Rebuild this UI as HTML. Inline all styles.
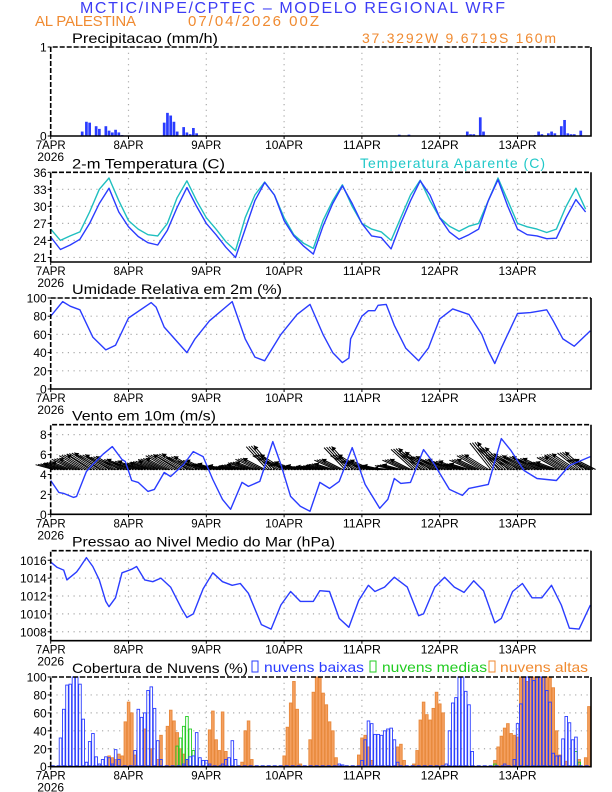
<!DOCTYPE html>
<html><head><meta charset="utf-8"><style>
html,body{margin:0;padding:0;background:#fff;}
svg{display:block;font-family:"Liberation Sans",sans-serif;}
</style></head><body>
<svg id="c" width="612" height="792" viewBox="0 0 612 792" xmlns="http://www.w3.org/2000/svg">
<text x="80" y="13" fill="#3c3cf5" font-size="16" textLength="425">MCTIC/INPE/CPTEC – MODELO REGIONAL WRF</text>
<text x="35" y="26" fill="#f08a30" font-size="15" textLength="101">AL PALESTINA</text>
<text x="188" y="26" fill="#f08a30" font-size="15" textLength="131">07/04/2026 00Z</text>
<text x="362" y="43" fill="#f08a30" font-size="14" textLength="194">37.3292W 9.6719S 160m</text>
<text x="360" y="168" fill="#20c8c8" font-size="14" textLength="185">Temperatura Aparente (C)</text>
<g id="g"></g>
</svg>
<script>
// ---------- data ----------
const dayLabels = ["7APR","8APR","9APR","10APR","11APR","12APR","13APR"];
const precipHours = [9.7,11,12,14,15,17,18,19,20,21,22,35,36,37,38,39,41,42,43,44,45,59,107.5,110.5,128.5,129.5,130.5,132.5,133.5,149.5,150.5,151.5,153.5,154.5,155.5,157.5,158.5,159.5,160.5,161.5,163.5];
const precipValues = [0.05,0.16,0.15,0.11,0.08,0.11,0.06,0.04,0.07,0.04,0.01,0.15,0.26,0.23,0.16,0.05,0.10,0.04,0.02,0.09,0.03,0.005,0.015,0.015,0.05,0.02,0.02,0.21,0.05,0.01,0.05,0.02,0.03,0.05,0.03,0.11,0.18,0.03,0.02,0.02,0.06];
const precipTicks = [0,1];

const temp3hHours = Array.from({length:56},(_,i)=>i*3);
const tempValues = [24.6,22.4,23.2,24.2,27.0,30.5,33.2,29.0,26.4,24.7,23.6,23.2,25.8,29.8,33.3,30.0,27.0,25.0,22.8,21.0,26.0,31.0,34.2,32.0,27.5,24.8,23.0,21.6,26.5,30.5,33.6,30.5,27.0,24.8,24.5,22.5,27.0,31.0,34.5,32.0,28.0,25.5,24.2,25.0,26.0,31.0,34.7,30.0,26.0,25.0,24.8,24.3,24.4,28.0,31.2,29.0];
const apparentValues = [26.0,24.0,24.8,25.5,29.0,33.0,35.0,31.0,27.5,26.0,25.0,24.8,27.0,31.5,34.5,31.0,28.0,26.0,23.8,22.2,28.0,32.0,34.3,32.0,28.0,25.0,23.5,22.6,27.5,31.0,33.8,30.0,27.0,26.0,25.5,24.0,28.0,32.0,34.6,31.0,28.0,26.5,25.6,26.5,27.0,31.0,35.0,31.0,27.0,26.4,26.0,25.4,26.0,30.0,33.2,29.5];
const tempTicks = [21,24,27,30,33,36];

const humHours = [0,3.7,6,9,13,17,20,24,31,32.5,35,42,44.5,49,56,60,63,66,71,76,80,84,87,90,92,92.5,96,98,100,101,103.5,106,109.5,113.5,116.5,120,124,129,133,135,137,139,144,148,153,155,158,161.5,166.5];
const humValues = [80,96,91,87,57,43,48,78,95,90,68,40,55,75,96,55,35,31,60,82,93,60,40,29,34,55,80,86,86,92,93,70,45,31,45,77,88,82,60,42,28,45,83,84,87,75,55,47,64];
const humTicks = [0,20,40,60,80,100];

const windHours = [0,2.5,4,7,8,11,13,16,19,22,23,25,27,30,32,35,37,41,44,47,50,53,55.5,59,61,64.5,68.5,71,74,77,80,83,86,89,93,97,101.5,104,106,108,111,115,118,123,127,129,135,139,142,146,150,156,160,166.5];
const windValues = [3.4,2.2,2.1,1.7,1.8,4.3,5.0,6.0,6.8,5.5,5.3,3.4,3.2,2.3,2.5,4.2,3.8,5.0,6.3,5.8,3.5,1.5,0.5,3.2,2.8,3.3,7.3,5.0,1.8,0.8,0.3,3.2,2.6,3.3,6.7,3.0,0.6,1.5,3.6,3.1,3.2,6.5,5.2,2.5,1.9,2.6,3.0,7.6,6.4,4.4,3.6,3.4,4.9,5.8];
const arrowV = [0.5,0.7,1.1,1.5,1.7,1.5,1.3,1.0,0.8,0.6,0.8,1.1,1.5,1.6,1.3,0.9,0.5,0.3,0.2,0.4,0.7,1.1,2.5,1.5,0.7,0.3,0.2,0.3,0.5,1.0,2.4,1.5,0.9,0.3,0.0,0.4,1.0,2.2,1.8,1.3,1.0,0.8,0.5,1.0,1.5,2.9,2.3,1.6,1.4,1.3,1.1,0.7,1.3,1.6,1.8,1.0];
const arrowU = [-1.6,-1.7,-1.9,-2.1,-2.3,-2.2,-2.1,-2.0,-1.9,-1.7,-1.8,-2.0,-2.2,-2.3,-2.1,-1.9,-1.7,-1.6,-1.6,-1.7,-1.8,-2.0,-1.9,-2.2,-1.8,-1.6,-1.6,-1.6,-1.7,-1.9,-1.9,-2.2,-2.0,-1.7,-1.6,-1.7,-1.9,-2.0,-2.3,-2.2,-2.0,-1.9,-1.8,-2.0,-2.2,-1.9,-2.1,-2.2,-2.3,-2.3,-2.2,-1.9,-2.0,-2.2,-1.9,-1.9];
const windTicks = [0,2,4,6,8];

const presHours = [0,2,4,5,8,9,11,13,15,17,18,20,22,25,26.5,29,31.5,34,37,40.5,42,44,47,50,53,56,58.5,61,65,68,71,74,77,81,83,86,89,92,95,98,100,103,106,110,113.5,115,118.5,121.5,124.5,127.5,130.5,133.5,137,139,142.5,145.5,148.5,151.5,154.5,157.5,160,163,166.5];
const presValues = [1015.8,1015.2,1014.9,1013.8,1014.7,1015.2,1016.3,1015.3,1013.8,1011.4,1010.8,1011.8,1014.6,1015.0,1015.3,1013.8,1013.6,1014.0,1013.0,1010.5,1009.6,1010.0,1012.8,1014.6,1013.6,1013.2,1013.4,1012.3,1008.8,1008.3,1011.0,1012.5,1011.4,1011.4,1012.6,1012.5,1009.5,1008.5,1011.5,1013.2,1012.5,1013.0,1014.1,1013.0,1009.8,1010.0,1013.0,1014.1,1013.0,1012.4,1013.7,1012.6,1009.0,1009.5,1012.5,1013.4,1011.8,1011.8,1013.2,1011.0,1008.4,1008.3,1011.0];
const presTicks = [1008,1010,1012,1014,1016];

const cloudTicks = [0,20,40,60,80,100];
const highHours = [18,19,20,21,22,23,24,25,26,29,31,33,34,36,37,38,39,40,41,42,49,50,51,52,53,54,59,60,61,62,72,73,74,75,76,77,80,81,82,83,84,85,86,87,88,95,96,97,98,99,107,108,109,112,113,114,115,116,117,118,119,120,121,137,138,139,140,141,142,143,144,145,146,147,148,149,150,151,152,153,154,155,156,157,159,163,165,166];
const highValues = [12,10,8,14,12,50,72,60,13,42,20,8,35,45,63,51,38,20,14,8,41,62,30,18,61,17,5,40,51,8,12,44,71,95,64,3,30,83,100,100,82,69,50,40,10,13,32,35,22,7,22,25,7,3,18,52,72,58,52,65,83,70,60,7,22,34,43,48,37,35,33,100,100,95,100,100,100,100,100,100,100,88,40,13,6,8,10,67];
const midHours = [39,40,41,42,43,44,137,162,163];
const midValues = [23,32,45,56,42,18,3,17,5];
const lowHours = [3,4,5,6,7,8,9,10,11,12,13,14,15,16,17,18,19,20,21,26,27,28,29,30,31,32,33,34,41,42,43,44,45,46,47,48,49,53,54,55,56,57,89,90,96,97,98,99,100,101,102,103,104,105,106,107,122,123,124,125,126,127,128,129,130,140,143,144,145,146,147,148,149,150,151,152,153,154,155,156,157,158,159,160,161,162];
const lowValues = [32,64,91,92,100,100,92,53,5,28,37,11,3,8,11,10,3,19,8,18,64,55,60,85,89,65,29,8,3,8,11,12,38,10,7,7,3,3,8,10,29,8,3,2,7,30,51,48,36,36,35,40,42,43,30,5,3,40,71,77,100,100,84,69,17,3,8,48,70,100,100,100,96,100,100,100,85,72,15,12,12,31,56,49,30,33];

// ---------- layout ----------
const X0 = 50.7, DAY = 77.8, XR = 591;
const xs = h => X0 + h*DAY/24;
const NS = "http://www.w3.org/2000/svg";
const G = document.getElementById('g');
function el(tag, attrs, parent){const e=document.createElementNS(NS,tag);for(const k in attrs)e.setAttribute(k,attrs[k]);(parent||G).appendChild(e);return e;}

function panel(name, top, bottom, vmin, vmax, ticks, title, titleLen){
  const g = el('g',{});
  
  
  const ys = v => bottom - (v - vmin)/(vmax - vmin)*(bottom - top);
  for(let d=1; d<7; d++){
    const gl = el('line',{x1:xs(d*24),x2:xs(d*24),y1:top,y2:bottom,stroke:'#aaa','stroke-width':1.2,'stroke-dasharray':'1.2 4.5'},g);
    
    
  }
  ticks.forEach(t=>{
    if(!(t===vmin && ys(t)>=bottom-0.5)) {
      const gl = el('line',{x1:X0,x2:XR,y1:ys(t),y2:ys(t),stroke:'#aaa','stroke-width':1.2,'stroke-dasharray':'1.2 4.5'},g);
      
      
    }
    const tl = el('text',{x:X0-4,y:ys(t)+4.5,'text-anchor':'end','font-size':12},g);
    tl.textContent = t;
    
    
    const tk = el('line',{x1:X0-3,x2:X0,y1:ys(t),y2:ys(t),stroke:'#000'},g);
    
    
  });
  dayLabels.forEach((lab,i)=>{
    const t = el('text',{x:xs(i*24),y:bottom+13,'text-anchor':'middle','font-size':12,'textLength':lab.length>4?38:30,'lengthAdjust':'spacingAndGlyphs'},g);
    t.textContent = lab;
    
    
    const tk = el('line',{x1:xs(i*24),x2:xs(i*24),y1:bottom,y2:bottom+3,stroke:'#000'},g);
    
    
  });
  const yr = el('text',{x:X0,y:bottom+25,'text-anchor':'middle','font-size':12},g);
  yr.textContent = '2026';
  
  
  const tt = el('text',{x:72,y:top-4,'font-size':14,'textLength':titleLen,'lengthAdjust':'spacingAndGlyphs'},g);
  tt.textContent = title;
  
  
  return {g, ys, top, bottom};
}
function frame(p){
  const f1 = el('path',{d:`M${X0},${p.bottom} L${X0},${p.top} L${XR},${p.top}`,stroke:'#000','stroke-width':1.6,fill:'none','stroke-dasharray':'5 2'},p.g);
  
  
  const f2 = el('path',{d:`M${XR},${p.top} L${XR},${p.bottom} L${X0},${p.bottom}`,stroke:'#000','stroke-width':1.6,fill:'none'},p.g);
  
  
}
function line(p, hrs, vals, color, name){
  const d = hrs.map((h,i)=>(i?'L':'M')+xs(h).toFixed(1)+','+p.ys(vals[i]).toFixed(1)).join(' ');
  const l = el('path',{d, stroke:color,'stroke-width':1.4,fill:'none','stroke-linejoin':'round'},p.g);
  
  
}

// Precip
const p1 = panel('precipitation',47,136,0,1,precipTicks,'Precipitacao (mm/h)',146);
precipHours.forEach((h,i)=>{
  const y = p1.ys(precipValues[i]);
  const b = el('rect',{x:xs(h)-1.3,y:y,width:2.7,height:Math.max(0.6,p1.bottom-y),fill:'#2a3cff'},p1.g);
  
  
});
frame(p1);

// Temp
const p2 = panel('temperature',172.3,262,20.2,36,tempTicks,'2-m Temperatura (C)',153);
line(p2,temp3hHours,apparentValues,'#1fbfbf','apparent-temperature-line');
line(p2,temp3hHours,tempValues,'#2a3cff','temperature-line');
frame(p2);

// Humidity
const p3 = panel('humidity',298,389,0,100,humTicks,'Umidade Relativa em 2m (%)',210);
line(p3,humHours,humValues,'#2a3cff','humidity-line');
frame(p3);

// Wind
const p4 = panel('wind',424.7,514.3,0,9,windTicks,'Vento em 10m (m/s)',144);
const base = p4.ys(4.5);
const U_SCALE = 11, V_SCALE = 9;
temp3hHours.forEach((h,i)=>{
  const x1 = xs(h)+10, y1 = base;
  const x2 = x1 + arrowU[i]*U_SCALE, y2 = y1 - arrowV[i]*V_SCALE - 1.5;
  const a = Math.atan2(y2-y1, x2-x1);
  const ag = el('g',{},p4.g);
  
  
  for(let k=0;k<4;k++){
    el('line',{x1:x1-k*2.5,y1,x2:x2-k*2.5,y2:y2+k*0.4,stroke:'#000','stroke-width':1},ag);
  }
  const hl=5;
  el('path',{d:`M${x2},${y2} L${x2-hl*Math.cos(a-0.5)},${y2-hl*Math.sin(a-0.5)} L${x2-hl*Math.cos(a+0.5)},${y2-hl*Math.sin(a+0.5)} Z`,fill:'#000'},ag);
});
const bl = el('line',{x1:X0,x2:XR,y1:base,y2:base,stroke:'#000','stroke-width':1.2,'stroke-dasharray':'2 1'},p4.g);


line(p4,windHours,windValues,'#2a3cff','wind-speed-line');
frame(p4);

// Pressure
const p5 = panel('pressure',550.7,640.7,1007.0,1017.07,presTicks,'Pressao ao Nivel Medio do Mar (hPa)',263);
line(p5,presHours,presValues,'#2a3cff','pressure-line');
frame(p5);

// Clouds
const p6 = panel('clouds',677,766.7,0,100,cloudTicks,'Cobertura de Nuvens (%)',176);
function bars(hrs, vals, stroke, fill, name){
  hrs.forEach((h,i)=>{
    const y = p6.ys(vals[i]);
    const r = el('rect',{x:xs(h)-1.2,y:y,width:2.6,height:p6.bottom-y,fill:fill,stroke:stroke,'stroke-width':0.9},p6.g);
    
    
  });
}
bars(highHours,highValues,'#e8883a','#f4a060','high-cloud-bar');
bars(midHours,midValues,'#22cc22','none','mid-cloud-bar');
bars(lowHours,lowValues,'#2a3cff','none','low-cloud-bar');
const zb = el('line',{x1:X0,x2:XR,y1:p6.bottom-0.5,y2:p6.bottom-0.5,stroke:'#2a3cff','stroke-width':2,'stroke-dasharray':'4 2'},p6.g);


const legend = [["nuvens baixas",'#2a3cff',252,264,100],["nuvens medias",'#22cc22',370,382,105],["nuvens altas",'#f08a30',489,500,88]];
legend.forEach(([lab,col,bx,tx,len])=>{
  const lg = el('g',{},p6.g);
  
  
  el('rect',{x:bx,y:661,width:6,height:11,fill:'none',stroke:col,'stroke-width':1},lg);
  const t = el('text',{x:tx,y:672,fill:col,'font-size':14,'textLength':len,'lengthAdjust':'spacingAndGlyphs'},lg);
  t.textContent = lab;
});
frame(p6);
</script>
</body></html>
